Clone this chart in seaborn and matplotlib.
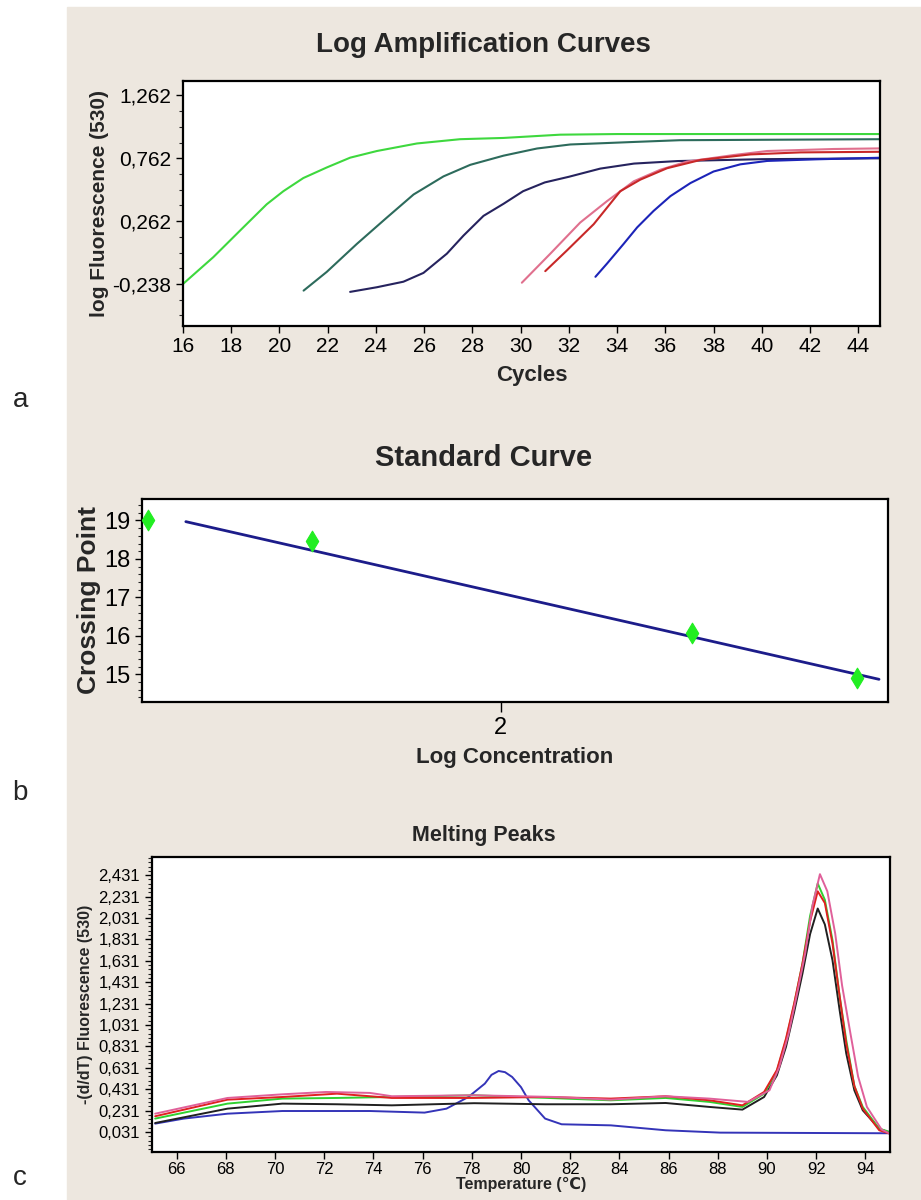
import numpy as np
import pandas as pd
import seaborn as sns
from matplotlib import pyplot as plt
from matplotlib.patches import Rectangle
from matplotlib.ticker import FixedLocator, MultipleLocator

# ---- data: log amplification curves (cycles, log fluorescence) ----
green_cyc = [16.0, 17.26, 18.43, 19.47, 20.16, 20.99, 21.96, 22.93, 24.04, 25.70, 27.49, 29.29, 31.64, 34.0, 45.0]
green_val = [-0.238, -0.024, 0.199, 0.396, 0.500, 0.605, 0.689, 0.767, 0.820, 0.880, 0.914, 0.924, 0.950, 0.955, 0.955]
teal_cyc = [21.0, 21.96, 23.21, 24.45, 25.56, 26.80, 27.91, 29.29, 30.68, 32.06, 34.69, 36.6, 45.0]
teal_val = [-0.291, -0.142, 0.081, 0.290, 0.474, 0.618, 0.710, 0.783, 0.840, 0.872, 0.892, 0.906, 0.914]
navy_cyc = [22.93, 24.04, 25.14, 25.97, 26.94, 27.63, 28.46, 29.29, 30.1, 31.0, 32.0, 33.3, 34.7, 36.5, 40.0, 45.0]
navy_val = [-0.301, -0.264, -0.220, -0.150, 0.003, 0.147, 0.304, 0.40, 0.50, 0.57, 0.615, 0.68, 0.72, 0.74, 0.755, 0.762]
pink_cyc = [30.05, 31.23, 32.47, 33.58, 34.69, 35.79, 36.90, 38.84, 40.22, 42.98, 45.0]
pink_val = [-0.228, 0.003, 0.251, 0.421, 0.579, 0.671, 0.736, 0.788, 0.820, 0.836, 0.841]
red_cyc = [31.02, 31.92, 33.03, 34.13, 34.96, 36.07, 37.46, 39.53, 41.60, 45.0]
red_val = [-0.136, 0.029, 0.238, 0.500, 0.592, 0.683, 0.749, 0.793, 0.809, 0.814]
blue_cyc = [33.10, 33.58, 34.27, 34.83, 35.51, 36.21, 37.04, 38.00, 39.11, 40.22, 42.29, 45.0]
blue_val = [-0.181, -0.076, 0.081, 0.212, 0.343, 0.461, 0.565, 0.657, 0.714, 0.741, 0.754, 0.767]

amp_yticks = [-0.238, 0.262, 0.762, 1.262]
amp_ylabels = ['-0,238', '0,262', '0,762', '1,262']

# ---- data: standard curve ----
std_logc = [1.412, 1.686, 2.319, 2.594]
std_cp = [19.0, 18.46, 16.07, 14.9]
fit_logc = [1.475, 2.630]
fit_cp = [18.97, 14.87]

# ---- data: melting peaks (temperature, -(d/dT) fluorescence) ----
blue_t = [65.13, 66.29, 68.07, 70.30, 73.86, 76.08, 76.97, 77.86, 78.53, 78.8, 79.09, 79.35, 79.64, 80.0,
          80.31, 80.98, 81.65, 83.65, 85.88, 88.10, 95.0]
blue_f = [0.109, 0.156, 0.202, 0.227, 0.227, 0.212, 0.249, 0.358, 0.483, 0.565, 0.601, 0.590, 0.545, 0.450,
          0.327, 0.156, 0.103, 0.093, 0.047, 0.025, 0.019]
mtemp = [65.13, 68.07, 70.30, 72.52, 74.75, 78.09, 80.98, 83.65, 85.88, 87.66, 89.0, 89.88, 90.4,
         90.77, 91.1, 91.44, 91.75, 92.06, 92.35, 92.66, 92.95, 93.22, 93.55, 93.89, 94.56, 95.0]
black_f = [0.115, 0.249, 0.296, 0.290, 0.280, 0.300, 0.290, 0.290, 0.302, 0.265, 0.240, 0.358, 0.56,
           0.826, 1.15, 1.512, 1.88, 2.119, 1.97, 1.636, 1.17, 0.764, 0.42, 0.234, 0.062, 0.022]
green_f = [0.156, 0.296, 0.343, 0.349, 0.358, 0.374, 0.350, 0.327, 0.349, 0.312, 0.265, 0.389, 0.60,
           0.888, 1.22, 1.605, 2.05, 2.353, 2.20, 1.823, 1.30, 0.888, 0.46, 0.265, 0.062, 0.031]
red_f = [0.178, 0.333, 0.358, 0.389, 0.349, 0.349, 0.358, 0.343, 0.365, 0.327, 0.280, 0.405, 0.61,
         0.904, 1.23, 1.605, 2.00, 2.28, 2.17, 1.792, 1.30, 0.857, 0.46, 0.249, 0.047, 0.015]
pink_t = [65.13, 68.07, 70.30, 72.08, 73.86, 74.75, 78.09, 81.43, 83.65, 85.88, 87.66, 89.23, 90.10, 90.5,
          90.88, 91.2, 91.55, 91.85, 92.15, 92.45, 92.77, 93.05, 93.39, 93.7, 94.06, 94.66, 95.0]
pink_f = [0.202, 0.349, 0.383, 0.405, 0.396, 0.365, 0.374, 0.358, 0.333, 0.365, 0.343, 0.312, 0.421, 0.64,
          0.951, 1.30, 1.699, 2.15, 2.440, 2.28, 1.886, 1.40, 0.951, 0.55, 0.265, 0.053, 0.015]

melt_yticks = [0.031, 0.231, 0.431, 0.631, 0.831, 1.031, 1.231, 1.431, 1.631, 1.831, 2.031, 2.231, 2.431]
melt_ylabels = ['0,031', '0,231', '0,431', '0,631', '0,831', '1,031', '1,231',
                '1,431', '1,631', '1,831', '2,031', '2,231', '2,431']

sns.set_style('ticks')
plt.rcParams['font.family'] = ['Liberation Sans', 'DejaVu Sans']
plt.rcParams['axes.linewidth'] = 1.6
plt.rcParams['xtick.major.width'] = 1.0
plt.rcParams['ytick.major.width'] = 1.0
plt.rcParams['ytick.minor.width'] = 0.8

beige = '#ede7df'
fig = plt.figure(figsize=(9.21, 12), dpi=100)
fig.patches.append(Rectangle((67 / 921, 0), 1 - 67 / 921, 1 - 7 / 1200,
                             transform=fig.transFigure, color=beige, zorder=-5))


def style_axes(ax):
    for s in ax.spines.values():
        s.set_visible(True)
        s.set_color('black')
    ax.set_facecolor('white')
    ax.tick_params(direction='out', colors='black', length=5)
    ax.tick_params(which='minor', direction='out', length=3)


# ---- panel a ----
ax = fig.add_axes([0.1987, 0.7286, 0.7568, 0.2042])
curves = [(green_cyc, green_val, '#3ed83e'), (teal_cyc, teal_val, '#2d6b5c'),
          (navy_cyc, navy_val, '#26235e'), (pink_cyc, pink_val, '#e0708e'),
          (red_cyc, red_val, '#c82828'), (blue_cyc, blue_val, '#1c24b8')]
for xs, ys, c in curves:
    sns.lineplot(x=xs, y=ys, color=c, linewidth=1.5, sort=False, estimator=None, ax=ax)
ax.set_xlim(16, 44.9)
ax.set_ylim(-0.57, 1.38)
ax.xaxis.set_major_locator(MultipleLocator(2))
ax.yaxis.set_major_locator(FixedLocator(amp_yticks))
ax.set_yticklabels(amp_ylabels)
ax.yaxis.set_minor_locator(MultipleLocator(0.125, offset=0.012))
style_axes(ax)
ax.tick_params(labelsize=15)
ax.set_xlabel('Cycles', fontsize=16, fontweight='bold', labelpad=6)
ax.set_ylabel('log Fluorescence (530)', fontsize=15, fontweight='bold', labelpad=2)
fig.text(0.525, 1 - 45 / 1200, 'Log Amplification Curves', ha='center', va='center',
         fontsize=20, fontweight='bold')
fig.text(0.022, 1 - 400 / 1200, 'a', ha='center', va='center', fontsize=20)

# ---- panel b ----
ax = fig.add_axes([0.1542, 0.415, 0.81, 0.1692])
sns.lineplot(x=fit_logc, y=fit_cp, color='#1c1c8a', linewidth=2, ax=ax)
sns.scatterplot(x=std_logc, y=std_cp, marker='d', s=110, color='#22ee22',
                edgecolor='#22ee22', zorder=5, ax=ax)
ax.set_xlim(1.402, 2.645)
ax.set_ylim(14.28, 19.56)
ax.xaxis.set_major_locator(FixedLocator([2]))
ax.yaxis.set_major_locator(MultipleLocator(1))
ax.yaxis.set_minor_locator(MultipleLocator(0.2))
style_axes(ax)
ax.tick_params(labelsize=17)
ax.tick_params(axis='x', length=7)
ax.set_xlabel('Log Concentration', fontsize=16, fontweight='bold', labelpad=6)
ax.set_ylabel('Crossing Point', fontsize=19, fontweight='bold', labelpad=2)
fig.text(0.525, 1 - 458 / 1200, 'Standard Curve', ha='center', va='center',
         fontsize=21, fontweight='bold')
fig.text(0.022, 1 - 793 / 1200, 'b', ha='center', va='center', fontsize=20)

# ---- panel c ----
ax = fig.add_axes([0.165, 0.04, 0.8014, 0.2458])
melt = [(blue_t, blue_f, '#3434b8'), (mtemp, black_f, '#202020'),
        (mtemp, green_f, '#30d030'), (mtemp, red_f, '#e02020'),
        (pink_t, pink_f, '#e0609a')]
for xs, ys, c in melt:
    sns.lineplot(x=xs, y=ys, color=c, linewidth=1.4, sort=False, estimator=None, ax=ax)
ax.set_xlim(65, 95)
ax.set_ylim(-0.156, 2.60)
ax.xaxis.set_major_locator(MultipleLocator(2))
ax.yaxis.set_major_locator(FixedLocator(melt_yticks))
ax.set_yticklabels(melt_ylabels)
ax.yaxis.set_minor_locator(MultipleLocator(0.04, offset=0.031))
style_axes(ax)
ax.tick_params(labelsize=12)
ax.tick_params(axis='x', pad=2)
ax.set_xlabel('Temperature (℃)', fontsize=11.5, fontweight='bold',
              family=['Liberation Sans', 'DejaVu Sans'], labelpad=0)
ax.set_ylabel('-(d/dT) Fluorescence (530)', fontsize=11.5, fontweight='bold', labelpad=4)
fig.text(0.525, 1 - 835 / 1200, 'Melting Peaks', ha='center', va='center',
         fontsize=15.5, fontweight='bold')
fig.text(0.022, 1 - 1178 / 1200, 'c', ha='center', va='center', fontsize=20)

fig.savefig('out.png', dpi=100, facecolor='white')
